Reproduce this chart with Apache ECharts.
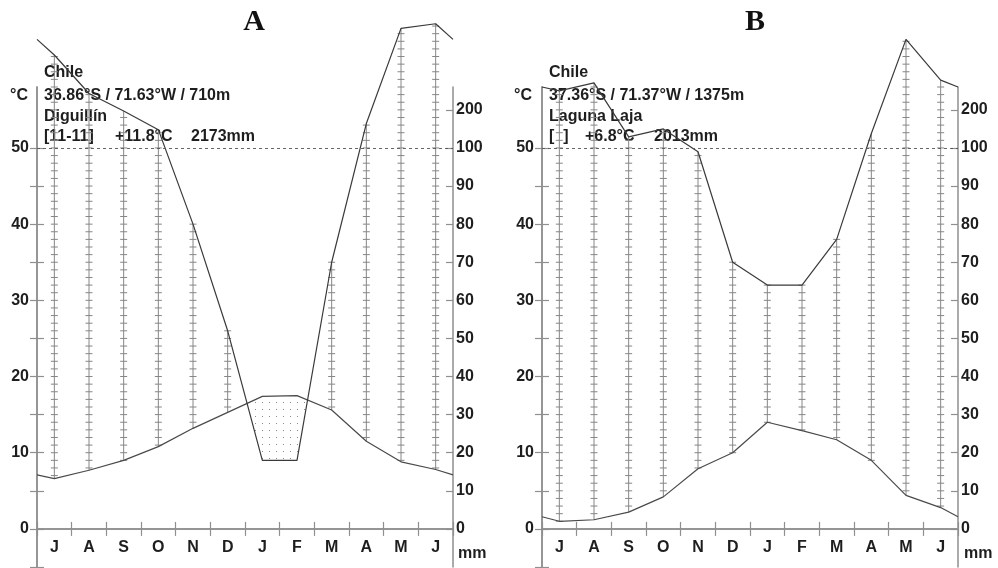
<!DOCTYPE html>
<html>
<head>
<meta charset="utf-8">
<script src="https://cdn.jsdelivr.net/npm/echarts@6.0.0/dist/echarts.min.js"></script>
<style>
  html, body { margin: 0; padding: 0; background: #fff; }
  #chart { width: 998px; height: 568px; }
</style>
</head>
<body>
<div id="chart"></div>
<script>
const months = ['J', 'A', 'S', 'O', 'N', 'D', 'J', 'F', 'M', 'A', 'M', 'J'];

// A - Diguillín
const tempA = [6.6, 7.7, 9.0, 10.8, 13.2, 15.3, 17.4, 17.5, 15.6, 11.5, 8.8, 7.8];
const precA = [344, 243, 197, 148, 80, 52, 18, 18, 70, 164, 414, 426];
const edgeTempA = 7.1;
const edgePrecA = 385;

// B - Laguna Laja
const tempB = [1.0, 1.2, 2.2, 4.2, 7.9, 10.0, 14.0, 12.9, 11.7, 9.0, 4.4, 2.8];
const precB = [250, 271, 129, 150, 99, 70, 64, 64, 76, 138, 385, 278];
const edgeTempB = 1.6;
const edgePrecB = 260;

// axis ticks / labels
const tempTicks = [-5, 0, 5, 10, 15, 20, 25, 30, 35, 40, 45, 50];
const tempLabels = [0, 10, 20, 30, 40, 50];
const mmTicks = [0, 10, 20, 30, 40, 50, 60, 70, 80, 90, 100, 200];
const monthBounds = [0, 1, 2, 3, 4, 5, 6, 7, 8, 9, 10, 11, 12];
const monthCenters = [0.5, 1.5, 2.5, 3.5, 4.5, 5.5, 6.5, 7.5, 8.5, 9.5, 10.5, 11.5];

// Walter-Lieth scale: 2 mm = 1 °C up to 100 mm, above that 20 mm = 1 °C
function toScale(mm) {
    return mm <= 100 ? mm / 2 : 50 + (mm - 100) / 20;
}
function fromScale(v) {
    return v <= 50 ? v * 2 : 100 + (v - 50) * 20;
}

const font = '"Liberation Sans", Arial, sans-serif';
const axisColor = '#8f8f8f';
const textColor = '#1e1e1e';

const dotCanvas = document.createElement('canvas');
dotCanvas.width = 7;
dotCanvas.height = 7;
const dctx = dotCanvas.getContext('2d');
dctx.fillStyle = '#8a8a8a';
dctx.fillRect(3, 3, 1, 1);

function withEdges(vals, edge) {
    const pts = [[0, edge]];
    vals.forEach((v, i) => pts.push([monthCenters[i], v]));
    pts.push([12, edge]);
    return pts;
}

// regions where temperature is above precipitation (dry period)
function dryRegions(tPts, pPts) {
    const regions = [];
    let cur = null;
    for (let i = 0; i < tPts.length; i++) {
        const d = tPts[i][1] - pPts[i][1];
        if (i > 0) {
            const dPrev = tPts[i - 1][1] - pPts[i - 1][1];
            if ((dPrev > 0) !== (d > 0)) {
                const f = dPrev / (dPrev - d);
                const xi = tPts[i - 1][0] + f * (tPts[i][0] - tPts[i - 1][0]);
                const yi = tPts[i - 1][1] + f * (tPts[i][1] - tPts[i - 1][1]);
                if (cur) {
                    cur.top.push([xi, yi]);
                    regions.push(cur);
                    cur = null;
                } else {
                    cur = {top: [[xi, yi]], bottom: []};
                }
            }
        }
        if (d > 0) {
            if (!cur) cur = {top: [], bottom: []};
            cur.top.push(tPts[i]);
            cur.bottom.push(pPts[i]);
        }
    }
    if (cur) regions.push(cur);
    return regions.map(r => r.top.concat(r.bottom.slice().reverse()));
}

function renderColumn(params, api) {
    const x = api.value(0), t = api.value(1), p = api.value(2);
    if (p <= t) return null;
    const top = api.coord([x, p]);
    const bot = api.coord([x, t]);
    const st = {stroke: '#868686', lineWidth: 1};
    const children = [{type: 'line', shape: {x1: top[0], y1: top[1], x2: bot[0], y2: bot[1]}, style: st}];
    for (let k = Math.ceil(t); k <= Math.floor(p); k++) {
        const c = api.coord([x, k]);
        children.push({type: 'line', shape: {x1: c[0] - 3.5, y1: c[1], x2: c[0] + 3.5, y2: c[1]}, style: st});
    }
    return {type: 'group', children: children};
}

function panel(g, temp, prec, edgeT, edgeP, left) {
    const tPts = withEdges(temp, edgeT);
    const pPts = withEdges(prec.map(toScale), toScale(edgeP));
    const polys = dryRegions(tPts, pPts);
    const grid = {left: left, top: 87, width: 416, height: 480, outerBoundsMode: 'none', containLabel: false};

    const labelStyle = {color: textColor, fontWeight: 'bold', fontSize: 16, fontFamily: font};
    const tickStyle = {color: axisColor, width: 1.2};
    const xAxes = [
        {type: 'value', gridIndex: g, min: 0, max: 12, position: 'bottom', splitLine: {show: false},
            axisLine: {onZero: true, onZeroAxisIndex: 3 * g, lineStyle: {color: axisColor, width: 1.5}},
            axisTick: {customValues: monthBounds, length: 7, lineStyle: tickStyle},
            axisLabel: {show: false}},
        {type: 'value', gridIndex: g, min: 0, max: 12, position: 'bottom', splitLine: {show: false},
            axisLine: {onZero: true, onZeroAxisIndex: 3 * g + 1, lineStyle: {color: axisColor, width: 1.5}},
            axisTick: {customValues: monthBounds, inside: true, length: 7, lineStyle: tickStyle},
            axisLabel: {show: false}},
        // month names, hung just below the zero line
        {type: 'category', gridIndex: g, data: months, boundaryGap: true, position: 'bottom',
            splitLine: {show: false}, axisLine: {show: false, onZero: false}, axisTick: {show: false},
            axisLabel: Object.assign({interval: 0, margin: -27}, labelStyle)}
    ];
    const yBase = {type: 'value', gridIndex: g, min: -5, max: 58, splitLine: {show: false},
        axisLine: {show: true, onZero: false, lineStyle: {color: axisColor, width: 1.5}}};
    const yAxes = [
        Object.assign({}, yBase, {position: 'left',
            axisTick: {customValues: tempTicks, length: 7, lineStyle: tickStyle},
            axisLabel: Object.assign({customValues: tempLabels, margin: 8}, labelStyle)}),
        Object.assign({}, yBase, {position: 'left',
            axisTick: {customValues: tempTicks, inside: true, length: 7, lineStyle: tickStyle},
            axisLabel: {show: false}}),
        Object.assign({}, yBase, {position: 'right',
            axisTick: {customValues: mmTicks.map(toScale), inside: true, length: 7, lineStyle: tickStyle},
            axisLabel: Object.assign({customValues: mmTicks.map(toScale), margin: 3,
                formatter: v => String(Math.round(fromScale(v)))}, labelStyle)})
    ];
    const ax = {xAxisIndex: 3 * g, yAxisIndex: 3 * g};
    const series = [
        Object.assign({type: 'custom', renderItem: renderColumn, clip: false, silent: true, z: 1,
            data: temp.map((t, i) => [monthCenters[i], t, toScale(prec[i])])}, ax),
        Object.assign({type: 'custom', clip: false, silent: true, z: 1, data: [[0]],
            renderItem: (params, api) => ({type: 'group', children: polys.map(poly => ({
                type: 'polygon',
                shape: {points: poly.map(p => api.coord(p))},
                style: {fill: {image: dotCanvas, repeat: 'repeat'}, stroke: null}
            }))})}, ax),
        Object.assign({type: 'line', data: tPts, symbol: 'none', clip: false, silent: true, z: 3,
            lineStyle: {color: '#4a4a4a', width: 1.2},
            markLine: {silent: true, symbol: 'none', label: {show: false},
                lineStyle: {color: '#555', width: 0.9, type: [3, 3]},
                data: [{yAxis: 50}]}}, ax),
        Object.assign({type: 'line', data: pPts, symbol: 'none', clip: false, silent: true, z: 3,
            lineStyle: {color: '#3a3a3a', width: 1.2}}, ax)
    ];
    return {grid: grid, xAxes: xAxes, yAxes: yAxes, series: series};
}

const pA = panel(0, tempA, precA, edgeTempA, edgePrecA, 37);
const pB = panel(1, tempB, precB, edgeTempB, edgePrecB, 542);

function txt(x, y, s, opts) {
    return {type: 'text', x: x, y: y, silent: true, style: Object.assign({
        text: s, fill: textColor, font: 'bold 16px ' + font, textAlign: 'left', textVerticalAlign: 'middle'
    }, opts || {})};
}

const serif = 'bold 30px "Liberation Serif", "Times New Roman", serif';
const graphics = [
    txt(254, 22, 'A', {font: serif, textAlign: 'center', fill: '#111'}),
    txt(755, 22, 'B', {font: serif, textAlign: 'center', fill: '#111'}),
    // A
    txt(10, 96, '°C'),
    txt(44, 73, 'Chile'),
    txt(44, 96, '36.86°S / 71.63°W / 710m'),
    txt(44, 117, 'Diguillín'),
    txt(44, 137, '[11-11]'),
    txt(115, 137, '+11.8°C'),
    txt(191, 137, '2173mm'),
    txt(458, 554, 'mm'),
    // B
    txt(514, 96, '°C'),
    txt(549, 73, 'Chile'),
    txt(549, 96, '37.36°S / 71.37°W / 1375m'),
    txt(549, 117, 'Laguna Laja'),
    txt(549, 137, '[  ]'),
    txt(585, 137, '+6.8°C'),
    txt(654, 137, '2013mm'),
    txt(964, 554, 'mm')
];

const option = {
    backgroundColor: '#fff',
    animation: false,
    grid: [pA.grid, pB.grid],
    xAxis: pA.xAxes.concat(pB.xAxes),
    yAxis: pA.yAxes.concat(pB.yAxes),
    series: pA.series.concat(pB.series),
    graphic: graphics
};

const chart = echarts.init(document.getElementById('chart'), null, {renderer: 'canvas'});
chart.setOption(option);
</script>
</body>
</html>
